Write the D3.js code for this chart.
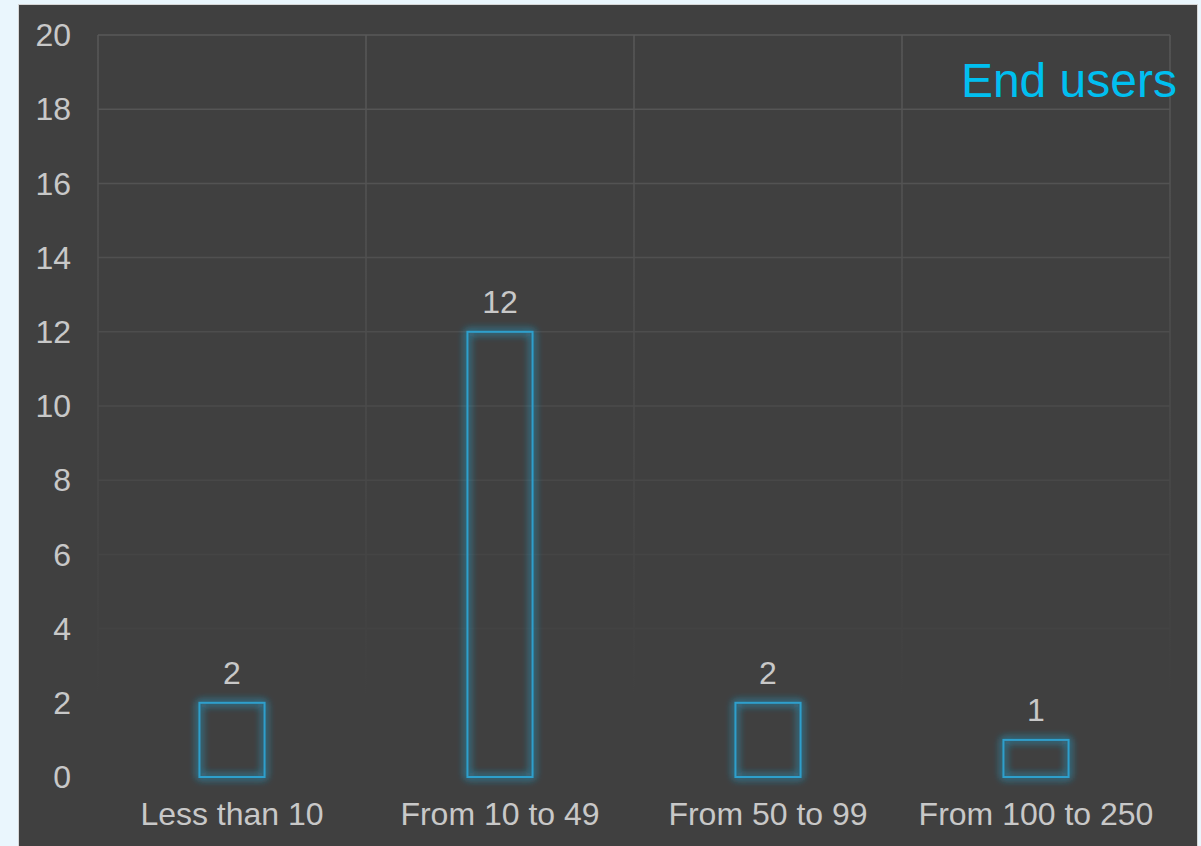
<!DOCTYPE html>
<html><head><meta charset="utf-8">
<script src="https://cdn.jsdelivr.net/npm/d3@7"></script>
<style>
html,body{margin:0;padding:0;background:#eaf6fd;}
svg{display:block;}
text{font-family:"Liberation Sans",Arial,sans-serif;}
</style></head>
<body>
<svg id="chart" width="1201" height="846"></svg>
<script>
const categories = ["Less than 10", "From 10 to 49", "From 50 to 99", "From 100 to 250"];
const values = [2, 12, 2, 1];
const yTicks = [0, 2, 4, 6, 8, 10, 12, 14, 16, 18, 20];
const title = "End users";

const svg = d3.select("#chart");
const panel = {x: 19, y: 5, w: 1178, h: 846};
const m = {left: 98, right: 1170, top: 35, bottom: 777};

const defs = svg.append("defs");
const glow = defs.append("filter").attr("id", "glow").attr("x", "-50%").attr("y", "-50%").attr("width", "200%").attr("height", "200%");
glow.append("feGaussianBlur").attr("in", "SourceGraphic").attr("stdDeviation", 4).attr("result", "b");
const mg = glow.append("feMerge");
mg.append("feMergeNode").attr("in", "b");
mg.append("feMergeNode").attr("in", "b");
mg.append("feMergeNode").attr("in", "SourceGraphic");

const vgrad = defs.append("linearGradient").attr("id", "vfade").attr("gradientUnits", "userSpaceOnUse")
  .attr("x1", 0).attr("y1", m.top).attr("x2", 0).attr("y2", 700);
vgrad.append("stop").attr("offset", "0%").attr("stop-color", "#585858");
vgrad.append("stop").attr("offset", "100%").attr("stop-color", "#404040");

// panel
svg.append("rect").attr("x", panel.x - 1).attr("y", panel.y - 1).attr("width", panel.w + 2).attr("height", panel.h + 2)
  .attr("fill", "#d6d6d6");
svg.append("rect").attr("x", panel.x).attr("y", panel.y).attr("width", panel.w).attr("height", panel.h)
  .attr("fill", "#404040");

const x = d3.scaleBand().domain(categories).range([m.left, m.right]).paddingInner(0).paddingOuter(0);
const y = d3.scaleLinear().domain([0, 20]).range([m.bottom, m.top]);

// horizontal grid with fade
const gridColor = d3.interpolateRgb("#404040", "#585858");
svg.append("g").selectAll("line").data(yTicks.filter(t => t > 0)).join("line")
  .attr("x1", m.left).attr("x2", m.right)
  .attr("y1", d => y(d)).attr("y2", d => y(d))
  .attr("stroke", d => gridColor(Math.max(0, Math.min(1, (700 - y(d)) / (700 - m.top)))))
  .attr("stroke-width", 1.5);

// vertical grid lines at band boundaries
const bounds = categories.map(c => x(c)).concat([m.right]);
svg.append("g").selectAll("line").data(bounds).join("line")
  .attr("x1", d => d).attr("x2", d => d)
  .attr("y1", m.top).attr("y2", 700)
  .attr("stroke", "url(#vfade)").attr("stroke-width", 1.5);

// y tick labels
svg.append("g").selectAll("text").data(yTicks).join("text")
  .attr("x", 71).attr("y", d => y(d)).attr("dy", "0.35em")
  .attr("text-anchor", "end").attr("fill", "#c8c8c8").attr("font-size", 32)
  .text(d => d);

// x labels
svg.append("g").selectAll("text").data(categories).join("text")
  .attr("x", d => x(d) + x.bandwidth() / 2).attr("y", 825)
  .attr("text-anchor", "middle").attr("fill", "#c8c8c8").attr("font-size", 32)
  .text(d => d);

// bars
const bw = x.bandwidth() * 0.243;
const data = categories.map((c, i) => ({c, v: values[i]}));
svg.append("g").selectAll("rect").data(data).join("rect")
  .attr("x", d => x(d.c) + x.bandwidth() / 2 - bw / 2)
  .attr("y", d => y(d.v))
  .attr("width", bw).attr("height", d => y(0) - y(d.v))
  .attr("fill", "none").attr("stroke", "#2f9fcc").attr("stroke-width", 2)
  .attr("filter", "url(#glow)");

// value labels
svg.append("g").selectAll("text").data(data).join("text")
  .attr("x", d => x(d.c) + x.bandwidth() / 2).attr("y", d => y(d.v) - 19)
  .attr("text-anchor", "middle").attr("fill", "#c8c8c8").attr("font-size", 32)
  .text(d => d.v);

// title
svg.append("text").attr("x", 1177).attr("y", 97).attr("text-anchor", "end")
  .attr("fill", "#00bff0").attr("font-size", 48).text(title);
</script>
</body></html>
